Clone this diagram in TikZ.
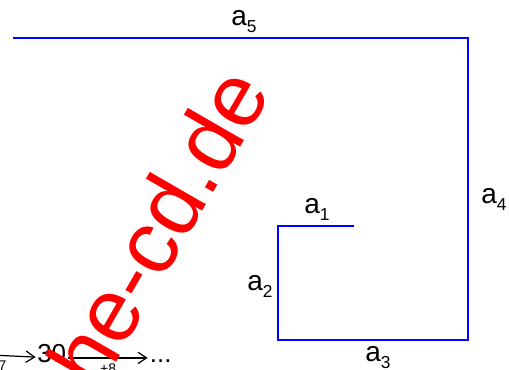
\documentclass[tikz,border=0pt]{standalone}
\usepackage{fontspec}
\setmainfont{Liberation Sans}
\usetikzlibrary{arrows.meta}
\newcommand{\seglabel}[1]{a\raisebox{-5.5pt}{\fontsize{13}{15}\selectfont #1}}

\begin{document}
\begin{tikzpicture}[x=0.75pt,y=0.75pt,yscale=-1,xscale=1,
	spiral/.style={draw=blue, line width=1.5pt},
	seglab/.style={inner sep=0pt, font=\fontsize{21}{25}\selectfont},
	hop/.style={-{Straight Barb[length=6.5pt,width=8.5pt]}, line width=0.9pt},
	num/.style={inner sep=0pt, text height=0.72em, text depth=0pt, font=\fontsize{19.5}{23}\selectfont},
	hoplab/.style={inner sep=0pt, font=\fontsize{10.5}{12}\selectfont}]
	\useasboundingbox (0,0) rectangle (509,369);
	\clip (0,0) rectangle (509,369);
	
	%Spiral corners
	\coordinate (s0) at (354,226);
	\coordinate (s1) at (278,226);
	\coordinate (s2) at (278,340);
	\coordinate (s3) at (468,340);
	\coordinate (s4) at (468,38);
	\coordinate (s5) at (13,38);
	%Spiral
	\draw [spiral] (s0) -- (s1) -- (s2) -- (s3) -- (s4) -- (s5) ;
	
	% Text Node
	\node [seglab, anchor=base west] (l1) at (304,213) {\seglabel{1}};
	% Text Node
	\node [seglab, anchor=base west] (l2) at (247,290) {\seglabel{2}};
	% Text Node
	\node [seglab, anchor=base west] (l3) at (365,361.5) {\seglabel{3}};
	% Text Node
	\node [seglab, anchor=base west] (l4) at (481,203) {\seglabel{4}};
	% Text Node
	\node [seglab, anchor=base west] (l5) at (231,25) {\seglabel{5}};
	
	%Sequence
	\coordinate (h0) at (-40,353.5);
	\node [num, anchor=base west] (n30) at (37,362.7) {30};
	\node [num, anchor=base west] (more) at (149.7,362.7) {...};
	\draw [hop, shorten >=1pt] (h0) -- node [hoplab, anchor=north, yshift=-4pt] (p7) {+7} (n30);
	\draw [hop, shorten <=1pt, shorten >=1.5pt] (n30) -- node [hoplab, anchor=north, yshift=-4pt] (p8) {+8} (more);
	
	%Watermark
	\node [red, rotate=60, anchor=base east, inner sep=0pt, font=\fontsize{67}{72}\selectfont] (mark) at (272,92) {mathe-cd.de};
\end{tikzpicture}
\end{document}
